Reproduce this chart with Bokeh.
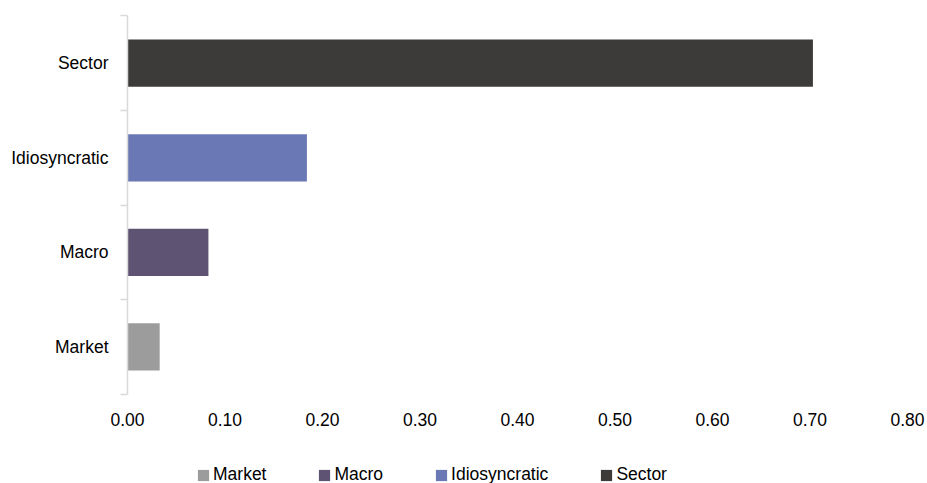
from bokeh.plotting import figure
from bokeh.models import Range1d, FixedTicker, NumeralTickFormatter, Legend, LegendItem
from bokeh.embed import file_html
from bokeh.resources import INLINE

# data (bottom to top)
categories = ["Market", "Macro", "Idiosyncratic", "Sector"]
values = [0.033, 0.083, 0.184, 0.703]
colors = ["#9b9c9b", "#5f5373", "#6a78b5", "#3c3b39"]
x_ticks = [0.0, 0.1, 0.2, 0.3, 0.4, 0.5, 0.6, 0.7, 0.8]

FONT = "Liberation Sans Narrow, Liberation Sans"
FS = "17.5px"

n = len(categories)
centers = [i + 0.5 for i in range(n)]
bounds = [float(i) for i in range(n + 1)]

# the frame fills the whole canvas; axes are pinned at the data origin
p = figure(width=925, height=483, output_backend="svg", toolbar_location=None,
           x_range=Range1d(-0.13026, 0.81846), y_range=Range1d(-0.947, n + 0.164),
           min_border=0)
p.outline_line_color = None
p.grid.grid_line_color = None
p.background_fill_color = "white"

renderers = []
for c, v, col, y in zip(categories, values, colors, centers):
    r = p.hbar(y=[y], right=[v], left=0, height=0.5, fill_color=col, line_color=None)
    renderers.append((c, r))

# y axis
ya = p.yaxis[0]
ya.fixed_location = 0
ya.bounds = (0, n)
ya.ticker = FixedTicker(ticks=centers, minor_ticks=bounds)
ya.major_label_overrides = {y: c for y, c in zip(centers, categories)}
ya.major_tick_line_color = None
ya.major_tick_out = 0
ya.major_tick_in = 0
ya.minor_tick_line_color = "#d9d9d9"
ya.minor_tick_line_width = 1.5
ya.minor_tick_out = 7
ya.minor_tick_in = 0
ya.axis_line_color = "#d9d9d9"
ya.axis_line_width = 1.5
ya.major_label_standoff = 12
ya.major_label_text_font = FONT
ya.major_label_text_font_size = FS
ya.major_label_text_color = "#000000"

# x axis
xa = p.xaxis[0]
xa.fixed_location = 0
xa.bounds = (0, 0.8)
xa.ticker = FixedTicker(ticks=x_ticks, minor_ticks=[])
xa.formatter = NumeralTickFormatter(format="0.00")
xa.axis_line_color = None
xa.major_tick_line_color = None
xa.minor_tick_line_color = None
xa.major_tick_out = 0
xa.major_tick_in = 0
xa.major_label_standoff = 19
xa.major_label_text_font = FONT
xa.major_label_text_font_size = FS
xa.major_label_text_color = "#000000"

legend = Legend(items=[LegendItem(label=c, renderers=[r]) for c, r in renderers],
                orientation="horizontal", location=(196, -2),
                border_line_color=None, background_fill_alpha=0,
                glyph_width=14, glyph_height=14, label_standoff=3, spacing=51,
                padding=0, margin=0,
                label_text_font=FONT, label_text_font_size=FS, label_text_color="#000000")
p.add_layout(legend, "center")

open("out.html", "w").write(file_html(p, INLINE))
